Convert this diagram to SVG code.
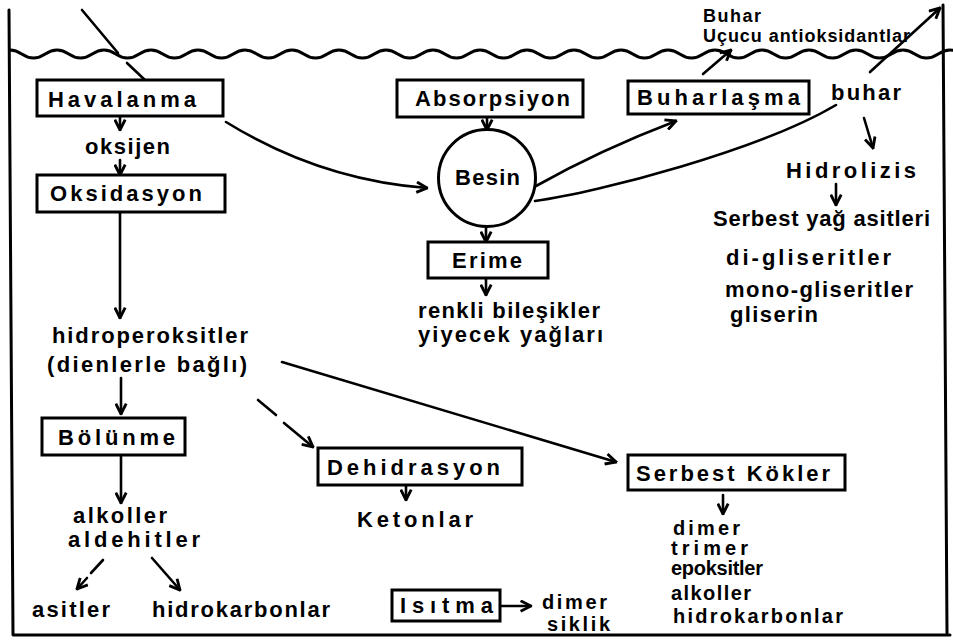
<svg xmlns="http://www.w3.org/2000/svg" width="953" height="640" viewBox="0 0 953 640">
<style>
  .frame{fill:none;stroke:#000;stroke-width:3;stroke-linecap:round;stroke-linejoin:round}
  .box{fill:#fff;stroke:#000;stroke-width:3}
  .ln{fill:none;stroke:#000;stroke-width:2.6;stroke-linecap:round}
  .arr{fill:none;stroke:#000;stroke-width:2.6;stroke-linecap:round;marker-end:url(#ah)}
  text{font-family:"Liberation Sans","DejaVu Sans",sans-serif;font-weight:bold;fill:#000;font-size:22px}
  .s{font-size:18px}
  .m{font-size:20px}
</style>
<defs>
  <marker id="ah" viewBox="0 0 10 10" refX="9" refY="5" markerWidth="5" markerHeight="5" orient="auto" markerUnits="strokeWidth">
    <path d="M1 1 L9 5 L1 9" fill="none" stroke="#000" stroke-width="2.2" stroke-linejoin="miter"/>
  </marker>
  <clipPath id="wc"><rect x="9" y="30" width="944" height="50"/></clipPath>
</defs>

<g id="frame">
  <path class="frame" d="M9 10 L13 635 L950 635"/>
  <path class="frame" d="M943 5 L947 633"/>
  <path class="frame" clip-path="url(#wc)" stroke-width="2.6" d="M-1.75 54 q11.75 -8 23.5 0 t23.5 0 t23.5 0 t23.5 0 t23.5 0 t23.5 0 t23.5 0 t23.5 0 t23.5 0 t23.5 0 t23.5 0 t23.5 0 t23.5 0 t23.5 0 t23.5 0 t23.5 0 t23.5 0 t23.5 0 t23.5 0 t23.5 0 t23.5 0 t23.5 0 t23.5 0 t23.5 0 t23.5 0 t23.5 0 t23.5 0 t23.5 0 t23.5 0 t23.5 0 t23.5 0 t23.5 0 t23.5 0 t23.5 0 t23.5 0 t23.5 0 t23.5 0 t23.5 0 t23.5 0 t23.5 0 t23.5 0"/>
</g>

<g id="connectors">
  <path class="ln" d="M82 10 L118 53"/>
  <path class="ln" d="M127 63 L145 80"/>
  <path class="arr" d="M120 117 L120 130"/>
  <path class="arr" d="M120 160 L120 175"/>
  <path class="arr" d="M120 213 L120 318"/>
  <path class="arr" d="M121 378 L121 414"/>
  <path class="arr" d="M121 456 L121 503"/>
  <path class="ln" d="M103 560 L91 573"/>
  <path class="arr" d="M87 578 L77 589"/>
  <path class="arr" d="M152 558 L180 590"/>
  <path class="arr" d="M226 122 Q320 180 427 188"/>
  <path class="arr" d="M487 118 L487 130"/>
  <path class="arr" d="M486 227 L486 242"/>
  <path class="arr" d="M486 279 L486 295"/>
  <path class="arr" d="M536 186 Q600 150 676 121"/>
  <path class="ln" d="M535 201 C600 192 760 150 836 105"/>
  <path class="arr" d="M870 72 L940 8"/>
  <path class="arr" d="M703 74 L731 50"/>
  <path class="arr" d="M864 118 L873 148"/>
  <path class="arr" d="M836 184 L836 205"/>
  <path class="arr" d="M282 362 L616 462"/>
  <path class="ln" d="M258 400 L276 415"/>
  <path class="arr" d="M284 423 L313 447"/>
  <path class="arr" d="M406 486 L406 500"/>
  <path class="arr" d="M723 495 L723 514"/>
  <path class="arr" d="M501 606 L531 606"/>
</g>

<g id="havalanma"><rect class="box" x="37" y="80" width="186" height="36"/><text x="48" y="107" textLength="148" lengthAdjust="spacing">Havalanma</text></g>
<g id="oksijen"><text x="85" y="154" textLength="85" lengthAdjust="spacing">oksijen</text></g>
<g id="oksidasyon"><rect class="box" x="37" y="175" width="188" height="37"/><text x="50" y="201" textLength="152" lengthAdjust="spacing">Oksidasyon</text></g>
<g id="hidroperoksitler"><text x="52" y="343" textLength="196" lengthAdjust="spacing">hidroperoksitler</text><text x="47" y="372" textLength="200" lengthAdjust="spacing">(dienlerle bağlı)</text></g>
<g id="bolunme"><rect class="box" x="42" y="418" width="143" height="37"/><text x="58" y="445" textLength="117" lengthAdjust="spacing">Bölünme</text></g>
<g id="alkoller-aldehitler"><text x="73" y="523" textLength="94" lengthAdjust="spacing">alkoller</text><text x="68" y="547" textLength="132" lengthAdjust="spacing">aldehitler</text></g>
<g id="asitler"><text x="32" y="617" textLength="78" lengthAdjust="spacing">asitler</text></g>
<g id="hidrokarbonlar1"><text x="152" y="617" textLength="178" lengthAdjust="spacing">hidrokarbonlar</text></g>

<g id="absorpsiyon"><rect class="box" x="397" y="80" width="186" height="37"/><text x="415" y="106" textLength="155" lengthAdjust="spacing">Absorpsiyon</text></g>
<g id="besin"><circle cx="487" cy="178" r="48.5" fill="#fff" stroke="#000" stroke-width="3"/><text x="455" y="185" textLength="65" lengthAdjust="spacing">Besin</text></g>
<g id="erime"><rect class="box" x="428" y="242" width="120" height="36"/><text x="452" y="268" textLength="70" lengthAdjust="spacing">Erime</text></g>
<g id="renkli"><text x="418" y="318" textLength="182" lengthAdjust="spacing">renkli bileşikler</text><text x="418" y="342" textLength="185" lengthAdjust="spacing">yiyecek yağları</text></g>

<g id="buharlasma"><rect class="box" x="628" y="81" width="181" height="33"/><text x="637" y="105" textLength="163" lengthAdjust="spacing">Buharlaşma</text></g>
<g id="buhar-top"><text class="s" x="703" y="22" textLength="58" lengthAdjust="spacing">Buhar</text><text class="s" x="703" y="42" textLength="207" lengthAdjust="spacing">Uçucu antioksidantlar</text></g>
<g id="buhar"><text x="831" y="100" font-size="24" textLength="70" lengthAdjust="spacing">buhar</text></g>
<g id="hidrolizis"><text x="786" y="178" font-size="24" textLength="130" lengthAdjust="spacing">Hidrolizis</text></g>
<g id="serbest-yag"><text x="713" y="226" textLength="217" lengthAdjust="spacing">Serbest yağ asitleri</text><text x="726" y="265" textLength="165" lengthAdjust="spacing">di-gliseritler</text><text x="725" y="297" textLength="188" lengthAdjust="spacing">mono-gliseritler</text><text x="730" y="322" textLength="88" lengthAdjust="spacing">gliserin</text></g>

<g id="dehidrasyon"><rect class="box" x="318" y="448" width="204" height="37"/><text x="327" y="475" textLength="173" lengthAdjust="spacing">Dehidrasyon</text></g>
<g id="ketonlar"><text x="357" y="527" textLength="116" lengthAdjust="spacing">Ketonlar</text></g>
<g id="serbest-kokler"><rect class="box" x="628" y="455" width="217" height="35"/><text x="636" y="481" textLength="194" lengthAdjust="spacing">Serbest Kökler</text></g>
<g id="kokler-urunler"><text class="m" x="673" y="535" textLength="67" lengthAdjust="spacing">dimer</text><text class="m" x="671" y="555" textLength="77" lengthAdjust="spacing">trimer</text><text class="m" x="671" y="575" textLength="92" lengthAdjust="spacing">epoksitler</text><text class="m" x="671" y="600" textLength="80" lengthAdjust="spacing">alkoller</text><text class="m" x="673" y="623" textLength="170" lengthAdjust="spacing">hidrokarbonlar</text></g>
<g id="isitma"><rect class="box" x="392" y="590" width="108" height="31"/><text x="400" y="613" textLength="93" lengthAdjust="spacing">Isıtma</text></g>
<g id="dimer-siklik"><text class="m" x="542" y="609" textLength="65" lengthAdjust="spacing">dimer</text><text class="m" x="547" y="631" textLength="63" lengthAdjust="spacing">siklik</text></g>
</svg>
